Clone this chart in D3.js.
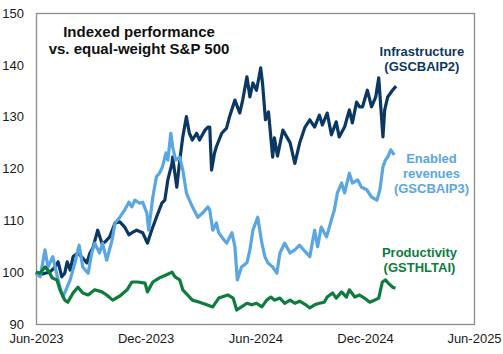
<!DOCTYPE html>
<html>
<head>
<meta charset="utf-8">
<script src="https://cdn.jsdelivr.net/npm/d3@7"></script>
<style>
    body { margin: 0; background: #fff; }
    svg text { font-family: "Liberation Sans", Arial, sans-serif; }
</style>
</head>
<body>
<div id="chart"></div>
<script>
// indexed performance vs equal-weight S&P 500
const infrastructure = [
    ["2023-06-01", 100], ["2023-06-08", 99.5], ["2023-06-16", 99.8], ["2023-06-24", 100],
    ["2023-07-03", 101], ["2023-07-08", 102], ["2023-07-14", 99.1], ["2023-07-19", 99.8],
    ["2023-07-23", 102], ["2023-07-28", 100.4], ["2023-08-02", 103], ["2023-08-10", 103.7],
    ["2023-08-18", 102.7], ["2023-08-25", 101.8], ["2023-08-30", 103.7], ["2023-09-04", 104.7],
    ["2023-09-12", 108.1], ["2023-09-19", 105.6], ["2023-09-24", 105.8], ["2023-10-02", 106.8],
    ["2023-10-11", 109.5], ["2023-10-19", 109.7], ["2023-10-27", 108.7], ["2023-11-03", 107.2],
    ["2023-11-08", 107.6], ["2023-11-16", 108.1], ["2023-11-26", 107.6], ["2023-12-04", 105.6],
    ["2023-12-11", 108.1], ["2023-12-19", 110.6], ["2023-12-28", 113.3], ["2024-01-02", 113.9],
    ["2024-01-07", 117.8], ["2024-01-14", 121], ["2024-01-15", 122.2], ["2024-01-22", 116.4],
    ["2024-01-27", 121.6], ["2024-02-01", 126.1], ["2024-02-07", 130], ["2024-02-12", 126.8],
    ["2024-02-17", 125.5], ["2024-02-24", 126.8], ["2024-02-29", 125.5], ["2024-03-09", 127.4],
    ["2024-03-14", 128], ["2024-03-17", 128], ["2024-03-20", 119.7], ["2024-03-25", 123],
    ["2024-03-28", 124.2], ["2024-04-06", 126.8], ["2024-04-14", 127.8], ["2024-04-19", 130],
    ["2024-04-28", 133.2], ["2024-05-06", 130.7], ["2024-05-11", 133.2], ["2024-05-18", 137.7],
    ["2024-05-23", 133.8], ["2024-05-28", 136.5], ["2024-06-03", 135.1], ["2024-06-10", 139.4],
    ["2024-06-13", 136.5], ["2024-06-18", 129.4], ["2024-06-23", 130.9], ["2024-06-30", 122.2],
    ["2024-07-03", 125.9], ["2024-07-08", 122.4], ["2024-07-12", 124.6], ["2024-07-17", 127.4],
    ["2024-07-24", 126], ["2024-07-29", 125], ["2024-08-06", 121], ["2024-08-14", 124.9],
    ["2024-08-23", 128], ["2024-08-31", 129.4], ["2024-09-08", 128], ["2024-09-16", 130.3],
    ["2024-09-21", 128.4], ["2024-09-29", 130.7], ["2024-10-06", 126.5], ["2024-10-14", 129],
    ["2024-10-19", 126.1], ["2024-10-28", 128], ["2024-11-05", 131.3], ["2024-11-10", 128.8],
    ["2024-11-17", 132.8], ["2024-11-22", 131.9], ["2024-11-27", 131.9], ["2024-12-05", 135.1],
    ["2024-12-12", 131.9], ["2024-12-19", 133.8], ["2024-12-24", 137.5], ["2024-12-31", 126.1],
    ["2025-01-03", 131.3], ["2025-01-08", 133.8], ["2025-01-16", 135.1], ["2025-01-22", 135.9]
];

const enabledRevenues = [
    ["2023-06-01", 99.8], ["2023-06-08", 99.1], ["2023-06-16", 104.3], ["2023-06-21", 101],
    ["2023-06-29", 103], ["2023-07-04", 100.4], ["2023-07-11", 97.1], ["2023-07-16", 95.2],
    ["2023-07-23", 97.1], ["2023-07-28", 98.5], ["2023-08-05", 101.8], ["2023-08-12", 105.2],
    ["2023-08-18", 101], ["2023-08-27", 99.8], ["2023-09-02", 103.7], ["2023-09-07", 105.6],
    ["2023-09-15", 103.7], ["2023-09-20", 105.6], ["2023-09-27", 102.3], ["2023-10-06", 106.2],
    ["2023-10-11", 109.5], ["2023-10-19", 110.6], ["2023-10-27", 112], ["2023-11-03", 113.5],
    ["2023-11-08", 112.6], ["2023-11-13", 113.9], ["2023-11-21", 113.3], ["2023-11-26", 113.5],
    ["2023-12-03", 111.4], ["2023-12-06", 108.1], ["2023-12-13", 114.5], ["2023-12-19", 118.4],
    ["2023-12-24", 119.1], ["2023-12-29", 120.3], ["2024-01-04", 123], ["2024-01-07", 121.6],
    ["2024-01-12", 126.8], ["2024-01-15", 124.2], ["2024-01-20", 121.6], ["2024-01-27", 122.2],
    ["2024-02-01", 119.7], ["2024-02-07", 115.3], ["2024-02-12", 113.9], ["2024-02-17", 112.6],
    ["2024-02-26", 110.6], ["2024-03-05", 111.4], ["2024-03-14", 112.6], ["2024-03-17", 112],
    ["2024-03-22", 108.1], ["2024-03-28", 109.5], ["2024-04-01", 107.6], ["2024-04-06", 106.8],
    ["2024-04-14", 105.6], ["2024-04-23", 107.6], ["2024-04-28", 104.9], ["2024-05-02", 98.5],
    ["2024-05-09", 101], ["2024-05-18", 101.8], ["2024-05-23", 104.3], ["2024-05-28", 108.1],
    ["2024-06-05", 110.6], ["2024-06-12", 105.6], ["2024-06-17", 103], ["2024-06-22", 101.8],
    ["2024-06-30", 101], ["2024-07-07", 99.8], ["2024-07-12", 103.7], ["2024-07-20", 105.6],
    ["2024-07-29", 103.7], ["2024-08-06", 104.3], ["2024-08-14", 105.2], ["2024-08-23", 104],
    ["2024-08-31", 103], ["2024-09-08", 108.1], ["2024-09-13", 104.9], ["2024-09-19", 108.7],
    ["2024-09-28", 106.8], ["2024-10-06", 110.1], ["2024-10-11", 112], ["2024-10-16", 115.3],
    ["2024-10-23", 117.2], ["2024-10-28", 115.3], ["2024-11-05", 119.1], ["2024-11-10", 117.2],
    ["2024-11-19", 117.8], ["2024-11-25", 116.4], ["2024-12-04", 115.9], ["2024-12-12", 114.5],
    ["2024-12-21", 113.9], ["2024-12-26", 115.9], ["2024-12-31", 120.3], ["2025-01-04", 121.6],
    ["2025-01-08", 122.2], ["2025-01-13", 123.6], ["2025-01-19", 122.6]
];

const productivity = [
    ["2023-06-01", 100], ["2023-06-08", 99.8], ["2023-06-16", 101], ["2023-06-21", 100.4],
    ["2023-06-28", 98.9], ["2023-07-06", 98.5], ["2023-07-11", 96.6], ["2023-07-19", 94.6],
    ["2023-07-24", 94.2], ["2023-08-02", 96], ["2023-08-10", 97.1], ["2023-08-18", 96],
    ["2023-08-27", 95.6], ["2023-09-07", 96.6], ["2023-09-19", 96.2], ["2023-09-27", 95.6],
    ["2023-10-07", 94.6], ["2023-10-19", 95.4], ["2023-10-31", 96.6], ["2023-11-08", 98.1],
    ["2023-11-18", 98.1], ["2023-11-30", 97.9], ["2023-12-04", 96.2], ["2023-12-13", 98.1],
    ["2023-12-24", 98.9], ["2024-01-05", 99.5], ["2024-01-14", 100], ["2024-01-19", 99.1],
    ["2024-01-27", 98.5], ["2024-02-01", 96.6], ["2024-02-09", 95.6], ["2024-02-17", 94.6],
    ["2024-02-29", 94.2], ["2024-03-12", 93.7], ["2024-03-22", 93.3], ["2024-04-01", 95],
    ["2024-04-16", 95.6], ["2024-04-25", 95], ["2024-05-01", 92.7], ["2024-05-09", 93.3],
    ["2024-05-18", 94], ["2024-05-26", 93.7], ["2024-06-03", 94], ["2024-06-12", 93.3],
    ["2024-06-20", 94.6], ["2024-06-27", 95.2], ["2024-07-03", 94.6], ["2024-07-12", 95],
    ["2024-07-20", 94], ["2024-07-29", 94.6], ["2024-08-06", 94], ["2024-08-14", 94.4],
    ["2024-08-23", 93.8], ["2024-08-31", 93.1], ["2024-09-08", 93.7], ["2024-09-16", 94],
    ["2024-09-24", 94.2], ["2024-09-29", 95.2], ["2024-10-08", 96], ["2024-10-14", 95],
    ["2024-10-23", 96.2], ["2024-10-31", 95.2], ["2024-11-05", 96.6], ["2024-11-14", 95.2],
    ["2024-11-22", 95.6], ["2024-11-30", 95], ["2024-12-09", 94.2], ["2024-12-17", 94.6],
    ["2024-12-24", 95], ["2024-12-30", 98.1], ["2025-01-04", 98.5], ["2025-01-09", 97.9],
    ["2025-01-16", 97.1], ["2025-01-21", 96.9]
];

const seriesNames = ["Infrastructure", "Enabled revenues", "Productivity"];
const seriesCodes = ["(GSCBAIP2)", "(GSCBAIP3)", "(GSTHLTAI)"];
const seriesColors = ["#0b3863", "#5aa6e2", "#0e7c3d"];
// where each label sits, as [date, value] of its first line
const labelAnchors = [["2025-03-06", 142.7], ["2025-03-22", 122.0], ["2025-03-02", 103.9]];

const yTicks = [90, 100, 110, 120, 130, 140, 150];
const xTicks = ["2023-06-01", "2023-12-01", "2024-06-01", "2024-12-01", "2025-06-01"];
const titleLines = ["Indexed performance", "vs. equal-weight S&P 500"];

const W = 503, H = 354;
const margin = {t: 13, l: 36, r: 29, b: 30};
const parse = d3.timeParse("%Y-%m-%d");

const x = d3.scaleTime()
    .domain([parse("2023-06-01"), parse("2025-06-01")])
    .range([margin.l, W - margin.r]);
const y = d3.scaleLinear()
    .domain([90, 150])
    .range([H - margin.b, margin.t]);

const svg = d3.select("#chart").append("svg")
    .attr("width", W)
    .attr("height", H);

// frame
svg.append("rect")
    .attr("x", x.range()[0] + 0.5)
    .attr("y", y.range()[1] + 0.5)
    .attr("width", x.range()[1] - x.range()[0])
    .attr("height", y.range()[0] - y.range()[1])
    .attr("fill", "none")
    .attr("stroke", "#8c8c8c")
    .attr("stroke-width", 1.3);

// y axis labels
const yAxis = svg.append("g")
    .attr("transform", `translate(${margin.l},0)`)
    .call(d3.axisLeft(y).tickValues(yTicks).tickSize(0).tickPadding(12));
yAxis.select(".domain").remove();
yAxis.selectAll("text")
    .style("font-size", "13px")
    .attr("fill", "#1a1a1a");

// x axis labels
const xAxis = svg.append("g")
    .attr("transform", `translate(0,${H - margin.b})`)
    .call(d3.axisBottom(x)
        .tickValues(xTicks.map(parse))
        .tickFormat(d3.timeFormat("%b-%Y"))
        .tickSize(0)
        .tickPadding(10));
xAxis.select(".domain").remove();
xAxis.selectAll("text")
    .style("font-size", "13px")
    .attr("fill", "#1a1a1a");

// lines (drawn in legend order, later ones on top)
const line = d3.line()
    .x((d) => x(parse(d[0])))
    .y((d) => y(d[1]));

const allSeries = [infrastructure, enabledRevenues, productivity];
svg.append("g")
    .attr("class", "lines")
    .selectAll("path")
    .data(allSeries)
    .join("path")
    .attr("d", line)
    .attr("fill", "none")
    .attr("stroke", (d, i) => seriesColors[i])
    .attr("stroke-width", 3.2)
    .attr("stroke-linejoin", "round");

// series labels
const labels = svg.append("g")
    .attr("class", "labels")
    .selectAll("text")
    .data(seriesNames)
    .join("text")
    .attr("x", (d, i) => x(parse(labelAnchors[i][0])))
    .attr("y", (d, i) => y(labelAnchors[i][1]))
    .attr("text-anchor", "middle")
    .attr("dominant-baseline", "central")
    .attr("fill", (d, i) => seriesColors[i])
    .style("font-size", "13px")
    .style("font-weight", "bold");

labels.each(function (d, i) {
    const parts = d === "Enabled revenues" ? ["Enabled", "revenues"] : [d];
    const lines = parts.concat([seriesCodes[i]]);
    const t = d3.select(this);
    lines.forEach((txt, k) => {
        t.append("tspan")
            .attr("x", t.attr("x"))
            .attr("dy", k === 0 ? 0 : 15)
            .text(txt);
    });
});

// title
svg.append("text")
    .attr("x", 139)
    .attr("y", 31)
    .attr("text-anchor", "middle")
    .attr("dominant-baseline", "central")
    .style("font-size", "15px")
    .style("font-weight", "bold")
    .attr("fill", "#111")
    .selectAll("tspan")
    .data(titleLines)
    .join("tspan")
    .attr("x", 139)
    .attr("dy", (d, i) => (i === 0 ? 0 : 17))
    .text((d) => d);
</script>
</body>
</html>
